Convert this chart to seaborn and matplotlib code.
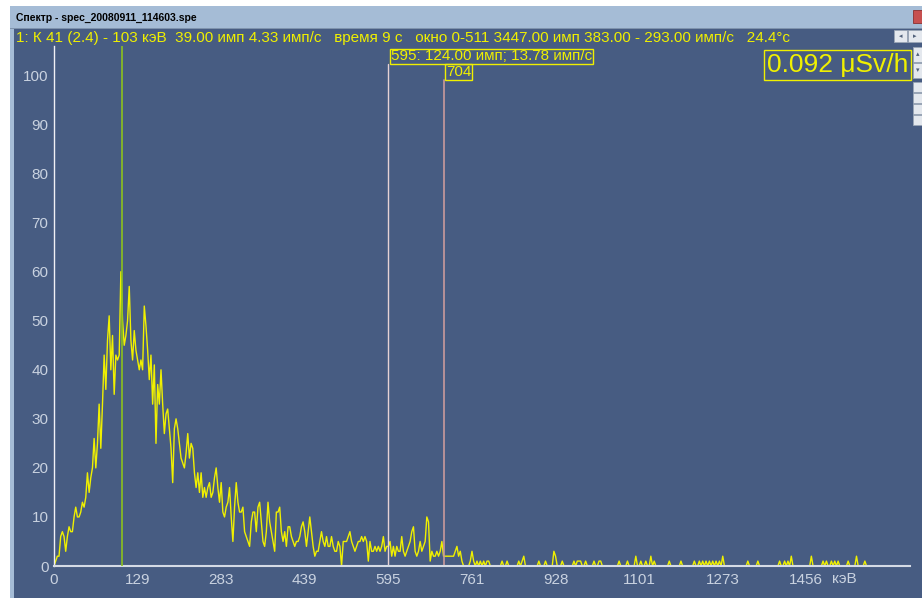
import numpy as np
import pandas as pd
import matplotlib
matplotlib.use("Agg")
import matplotlib.pyplot as plt
import seaborn as sns
from matplotlib.patches import Rectangle

# Counts per 2-channel step for channels 0..520
main_counts = [
    0, 1, 2, 2, 6, 7, 6, 3, 6, 8, 7, 7, 10, 12, 10, 10, 11, 13, 12, 14,
    19, 15, 18, 20, 26, 20, 25, 33, 24, 33, 43, 36, 46, 51, 40, 47, 35, 43, 42, 43,
    60, 50, 45, 47, 50, 57, 46, 42, 48, 44, 42, 40, 42, 40, 53, 49, 44, 38, 43, 33,
    41, 25, 37, 33, 40, 33, 27, 31, 32, 28, 24, 17, 28, 30, 28, 25, 22, 21, 20, 23,
    27, 22, 25, 24, 19, 16, 19, 15, 19, 14, 16, 14, 16, 17, 14, 15, 18, 20, 16, 13,
    17, 11, 10, 12, 13, 16, 10, 5, 12, 17, 13, 11, 11, 12, 7, 6, 5, 4, 9, 11,
    11, 7, 12, 13, 9, 5, 4, 7, 13, 9, 7, 5, 3, 11, 11, 12, 7, 5, 7, 4,
    8, 8, 6, 5, 4, 5, 5, 6, 8, 9, 7, 4, 7, 10, 7, 4, 2, 3, 3, 5,
    7, 5, 4, 6, 4, 4, 6, 4, 3, 3, 5, 4, 0, 5, 5, 5, 6, 7, 5, 4,
    3, 4, 5, 5, 6, 5, 6, 5, 1, 5, 3, 3, 4, 3, 4, 3, 4, 6, 3, 4,
    4, 5, 2, 4, 2, 4, 3, 3, 6, 3, 2, 3, 4, 5, 7, 8, 3, 2, 3, 5,
    3, 4, 5, 10, 9, 1, 3, 2, 2, 3, 2, 3, 5, 2, 2, 2, 2, 2, 2, 2,
    3, 4, 2, 3, 1, 0, 0, 0, 0, 1, 3, 1, 0, 1, 0, 1, 0, 1, 0, 1,
    1,
]
# Sparse counts above channel 520
tail_channels = [536, 542, 556, 560, 562, 580, 588, 598, 600, 608, 622, 626, 628, 630,
                 636, 646, 652, 654, 676, 686, 696, 702, 708, 714, 718, 736, 750, 766,
                 772, 776, 780, 784, 788, 792, 796, 800, 830, 842, 868, 874, 878, 882,
                 906, 920, 924, 930, 934, 938, 950, 960, 970]
tail_counts = [1, 1, 1, 1, 2, 1, 1, 3, 2, 1, 1, 1, 1, 1,
               1, 1, 1, 1, 1, 1, 2, 1, 1, 2, 1, 1, 1, 1,
               1, 1, 1, 1, 1, 1, 1, 2, 1, 1, 1, 1, 1, 2,
               2, 1, 1, 1, 1, 1, 1, 2, 1]

n_channels = 1024
tick_channels = [0, 100, 200, 300, 400, 500, 600, 700, 800, 900, 1000]
tick_energies = ["0", "129", "283", "439", "595", "761", "928", "1101", "1273", "1456", ""]
y_ticks = [0, 10, 20, 30, 40, 50, 60, 70, 80, 90, 100]
marker_channel = 81.3
cursor_channels = [400, 466]
cursor_labels = ["595: 124.00 имп; 13.78 имп/с", "704"]

window_title = "Спектр - spec_20080911_114603.spe"
header = ("1: К 41 (2.4) - 103 кэВ  39.00 имп 4.33 имп/с   время 9 с   "
          "окно 0-511 3447.00 имп 383.00 - 293.00 имп/с   24.4°с")
dose_text = "0.092 μSv/h"
unit_text = "кэВ"

# ---- assemble spectrum table ----
channels = np.arange(0, n_channels, 2)
counts = np.zeros(len(channels))
counts[:len(main_counts)] = main_counts
for c, v in zip(tail_channels, tail_counts):
    counts[c // 2] = v
df = pd.DataFrame({"channel": channels, "counts": counts})

sns.set_theme(style="white")
plt.rcParams["font.family"] = ["Liberation Sans", "DejaVu Sans"]

W, H = 922, 598
fig = plt.figure(figsize=(W / 100, H / 100), dpi=100)
fig.patch.set_facecolor("white")

def fx(x):
    return x / W

def fy(y):
    return 1 - y / H

def frect(x0, y0, x1, y1, z=-5, **kw):
    fig.patches.append(Rectangle((fx(x0), fy(y1)), fx(x1) - fx(x0), fy(y0) - fy(y1),
                                 transform=fig.transFigure, zorder=z, **kw))

PANEL = "#475c82"
YELLOW = "#f0f000"
LABEL = "#c9d2e0"
PX_PER_COUNT = 4.905

# window frame, title bar and dark panel
frect(10, 6, W, 28, facecolor="#a5bcd6", edgecolor="none")
frect(10, 28, W, 29, facecolor="#7f93ad", edgecolor="none")
frect(10, 29, 14, H, facecolor="#a5bcd6", edgecolor="none")
frect(14, 29, W, H, facecolor=PANEL, edgecolor="none")
frect(913, 10, W, 23, z=-4, facecolor="#c75050", edgecolor="#8a3030", lw=0.6)
fig.text(fx(16), fy(18), window_title, fontsize=7.5, fontweight="bold",
         color="black", va="center", ha="left")

# scroll buttons at the right edge
for (x0, y0, x1, y1, s) in [(894, 30, 907, 42, "◂"), (908, 30, W, 42, "▸"),
                            (913, 47, W, 62, "▴"), (913, 63, W, 78, "▾")]:
    frect(x0, y0, x1, y1, z=-4, facecolor="#e4e8ee", edgecolor="#9aa6b6", lw=0.6)
    fig.text(fx((x0 + x1) / 2), fy((y0 + y1) / 2), s, fontsize=5, color="#50607a",
             ha="center", va="center", family="DejaVu Sans")
for y0 in (82, 93, 104, 115):
    frect(913, y0, W, y0 + 10, z=-4, facecolor="#e4e8ee", edgecolor="#9aa6b6", lw=0.6)

# status line and dose-rate readout
fig.text(fx(16), fy(38), header, fontsize=11.0, color=YELLOW, va="center", ha="left")
fig.text(fx(767), fy(65), dose_text, fontsize=19, color=YELLOW, va="center", ha="left",
         bbox=dict(boxstyle="square,pad=0.1", facecolor="none", edgecolor=YELLOW, lw=1))

# ---- spectrum axes ----
ax = fig.add_axes([fx(54), fy(566), fx(910) - fx(54), fy(46) - fy(566)])
ax.patch.set_alpha(0)
sns.lineplot(data=df, x="channel", y="counts", ax=ax, estimator=None,
             color=YELLOW, lw=1.0)

ax.set_xlim(0, n_channels)
ax.set_ylim(0, (566 - 46) / PX_PER_COUNT)
ax.set_xticks(tick_channels)
ax.set_xticklabels(tick_energies)
ax.set_yticks(y_ticks)
ax.set_xlabel("")
ax.set_ylabel("")
ax.tick_params(axis="both", colors=LABEL, labelcolor=LABEL, labelsize=11,
               length=3, width=0.8, direction="out", pad=2)
ax.tick_params(axis="y", colors="#c9a8b4", labelcolor=LABEL, pad=1)
for side in ("top", "right"):
    ax.spines[side].set_visible(False)
ax.spines["left"].set_color("#f0f0f5")
ax.spines["bottom"].set_color("#d5dbe6")
ax.spines["left"].set_linewidth(1.0)
ax.spines["bottom"].set_linewidth(1.5)

# marker and cursor lines
ax.axvline(marker_channel, color="#8cc21e", lw=1.2, zorder=3)
ax.plot([cursor_channels[0]] * 2, [0, (566 - 64) / PX_PER_COUNT], color="#e6d2d4", lw=1.0)
ax.plot([cursor_channels[1]] * 2, [0, (566 - 80) / PX_PER_COUNT], color="#c99a9c", lw=1.2)

fig.text(fx(391), fy(56.5), cursor_labels[0], fontsize=11, color=YELLOW, va="center",
         ha="left", bbox=dict(boxstyle="square,pad=0.06", facecolor="none",
                              edgecolor=YELLOW, lw=1))
fig.text(fx(446), fy(72), cursor_labels[1], fontsize=11, color=YELLOW, va="center",
         ha="left", bbox=dict(boxstyle="square,pad=0.06", facecolor="none",
                              edgecolor=YELLOW, lw=1))

fig.text(fx(832), fy(579), unit_text, fontsize=11, color=LABEL, va="center", ha="left")

fig.savefig("out.png", dpi=100, facecolor=fig.get_facecolor())
